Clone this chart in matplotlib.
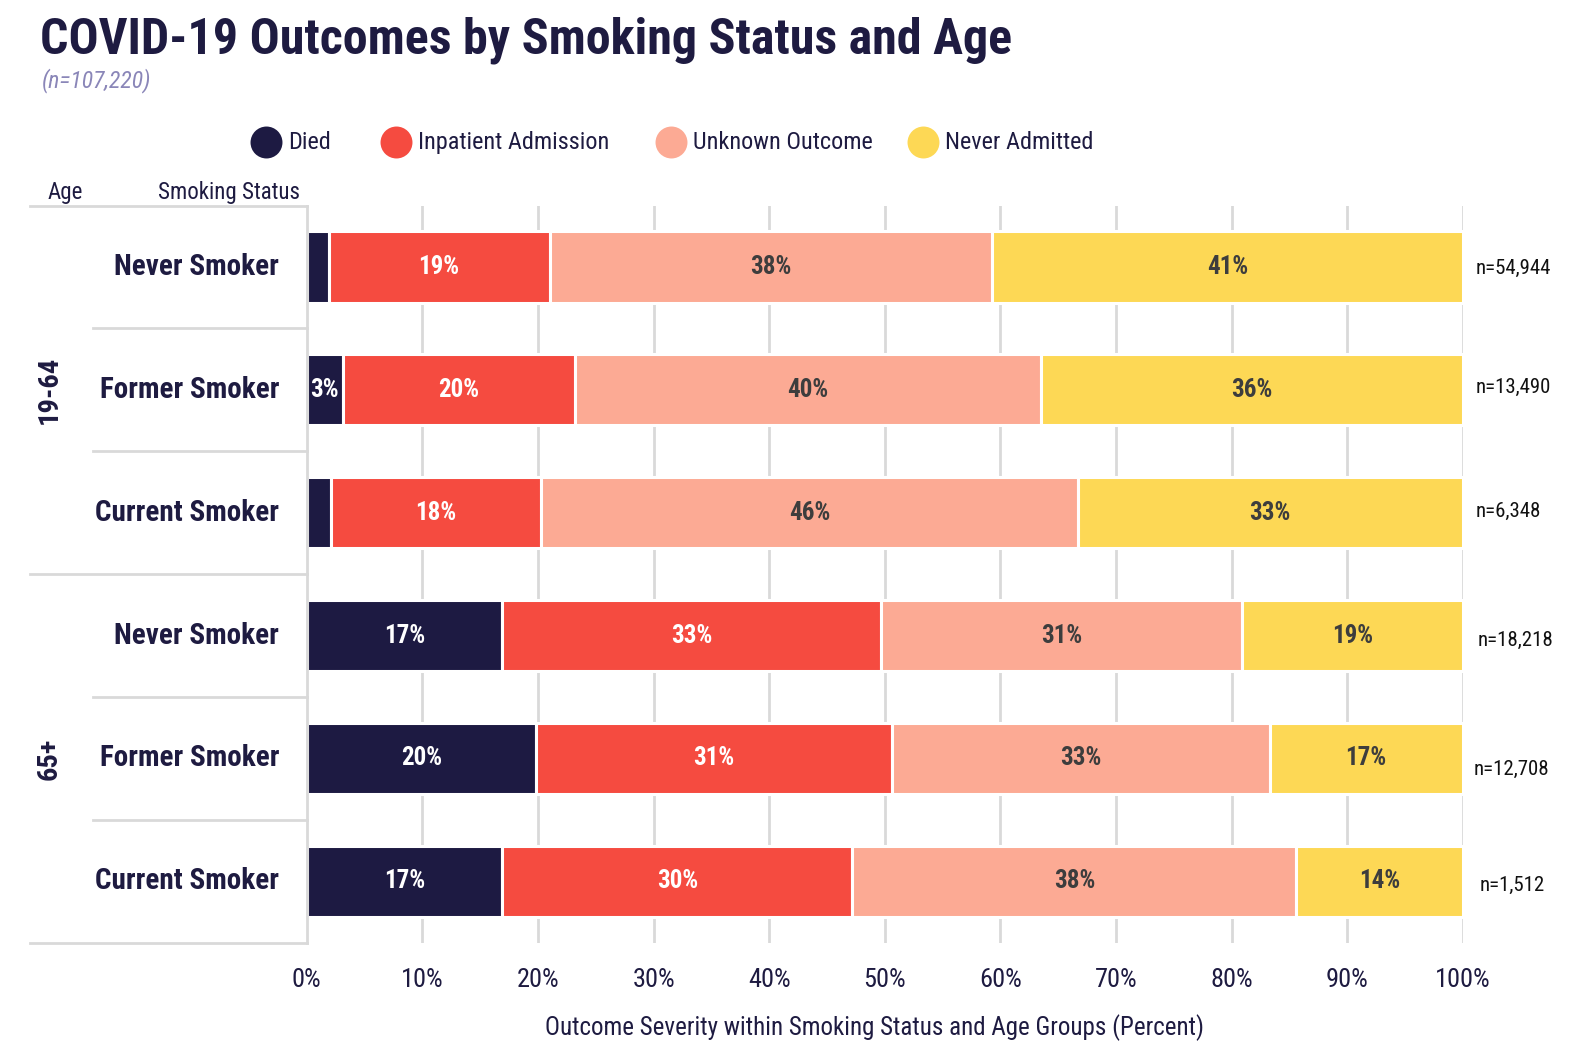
import matplotlib
matplotlib.use("Agg")
import matplotlib.pyplot as plt
from matplotlib import font_manager
import numpy as np

# ---------------- data ----------------
age_groups = ["19-64", "19-64", "19-64", "65+", "65+", "65+"]
smoking_status = ["Never Smoker", "Former Smoker", "Current Smoker",
                  "Never Smoker", "Former Smoker", "Current Smoker"]
outcomes = ["Died", "Inpatient Admission", "Unknown Outcome", "Never Admitted"]
died = [1.9, 3.1, 2.1, 16.9, 19.8, 16.9]
inpatient = [19.1, 20.1, 18.2, 32.8, 30.8, 30.3]
unknown = [38.3, 40.3, 46.4, 31.2, 32.7, 38.4]
never_admitted = [40.7, 36.5, 33.3, 19.1, 16.7, 14.4]
n_counts = ["n=54,944", "n=13,490", "n=6,348", "n=18,218", "n=12,708", "n=1,512"]
total_n = "(n=107,220)"
x_ticks = [0, 10, 20, 30, 40, 50, 60, 70, 80, 90, 100]

# ---------------- style ----------------
names = {f.name for f in font_manager.fontManager.ttflist}
FONT = "Roboto Condensed" if "Roboto Condensed" in names else "Roboto"
COND = FONT == "Roboto Condensed"
plt.rcParams["font.family"] = [FONT, "DejaVu Sans"]

NAVY = "#1e1b41"
colors = ["#1d1a42", "#f54b40", "#fcaa94", "#fdd855"]
label_colors = ["white", "white", "#3d3d3d", "#3d3d3d"]
GRID = "#d9d9d9"

W, H = 1572, 1051
KX, KY = 1572 / 1568, 1051 / 1048
fig = plt.figure(figsize=(W / 100, H / 100), dpi=100)

def fx(px):
    return px * KX / W

def fy(py):
    return 1 - py * KY / H

s = 1.0 if COND else 0.88  # shrink factor for wider fallback font

ax = fig.add_axes([fx(306), fy(940), fx(1459) - fx(306), fy(205) - fy(940)])
ax.set_xlim(0, 100)
ax.set_ylim(5.5, -0.5)
ypos = np.arange(len(smoking_status))

series = [died, inpatient, unknown, never_admitted]
left = np.zeros(len(ypos))
for vals, col, lcol in zip(series, colors, label_colors):
    vals = np.array(vals)
    ax.barh(ypos, vals, left=left, height=0.58, color=col,
            edgecolor="white", linewidth=2.2, zorder=3)
    for yi, (l, v) in enumerate(zip(left, vals)):
        if v >= 2.5:
            ax.text(l + v / 2, yi, f"{int(round(v))}%", ha="center", va="center",
                    color=lcol, fontsize=18 * s, fontweight="bold", zorder=4)
    left = left + vals

# gridlines
for xt in x_ticks[1:]:
    ax.axvline(xt, color=GRID, lw=2, zorder=1, ymin=-0.004, ymax=1)
ax.set_xticks(x_ticks)
ax.set_xticklabels([f"{t}%" for t in x_ticks], color=NAVY, fontsize=19 * s)
ax.tick_params(axis="x", length=0, pad=18)
ax.set_yticks([])
for sp in ["top", "right", "bottom"]:
    ax.spines[sp].set_visible(False)
ax.spines["left"].set_color(GRID)
ax.spines["left"].set_linewidth(2)
ax.spines["left"].set_zorder(5)
fig.text(fx(872), fy(1025),
         "Outcome Severity within Smoking Status and Age Groups (Percent)",
         ha="center", va="center", color=NAVY, fontsize=18 * s)

# n labels (small per-row placement nudges, in pixels)
n_dx = [1509, 1509, 1504, 1512, 1508, 1508]
n_dy = [1, -2, -1, 5, 11, 4]
ptrans = matplotlib.transforms.blended_transform_factory(fig.transFigure, ax.transData)
for yi, nt in enumerate(n_counts):
    off = matplotlib.transforms.offset_copy(ptrans, fig=fig, x=0, y=-n_dy[yi] * 0.72,
                                            units="points")
    ax.text(fx(n_dx[yi]), yi, nt, ha="center", va="center", fontsize=15 * s,
            color="#111111", clip_on=False, transform=off)

# left label area: row labels
for yi, lab in enumerate(smoking_status):
    ax.text(-2.4, yi, lab, ha="right", va="center", fontsize=21 * s,
            fontweight="bold", color=NAVY, clip_on=False)

# horizontal separators (x in figure coords, y in data coords)
trans = matplotlib.transforms.blended_transform_factory(fig.transFigure, ax.transData)
group_bounds = [-0.5, 2.5, 5.5]
inner_bounds = [0.5, 1.5, 3.5, 4.5]
for b in group_bounds:
    ax.plot([fx(30), fx(306)], [b, b], transform=trans, color=GRID, lw=2,
            clip_on=False, zorder=2)
for b in inner_bounds:
    ax.plot([fx(93), fx(306)], [b, b], transform=trans, color=GRID, lw=2,
            clip_on=False, zorder=2)

# group labels
groups = []
for g in age_groups:
    if g not in groups:
        groups.append(g)
for g in groups:
    idx = [i for i, a in enumerate(age_groups) if a == g]
    yc = np.mean(idx)
    ax.text(fx(49), yc, g, transform=trans, rotation=90, ha="center",
            va="center", fontsize=20.5 * s, fontweight="bold", color=NAVY)

# column headers
fig.text(fx(47), fy(192), "Age", ha="left", va="center", fontsize=16.5 * s, color=NAVY)
fig.text(fx(158), fy(192), "Smoking Status", ha="left", va="center",
         fontsize=16.5 * s, color=NAVY)

# title / subtitle
fig.text(fx(40), fy(40), "COVID-19 Outcomes by Smoking Status and Age",
         ha="left", va="center", fontsize=36 * (1.0 if COND else 0.9),
         fontweight="bold", color=NAVY)
fig.text(fx(42), fy(80), total_n, ha="left", va="center", fontsize=17 * s,
         style="italic", color="#8a86b8")

# legend
leg_x = [265, 395, 669, 921]
for px, lab, col in zip(leg_x, outcomes, colors):
    fig.lines.append(matplotlib.lines.Line2D([fx(px)], [fy(142)], marker="o",
                     markersize=23, color=col, markeredgewidth=0,
                     transform=fig.transFigure))
    fig.text(fx(px + 22), fy(142), lab, ha="left", va="center",
             fontsize=17.5 * s, color=NAVY)

fig.savefig("out.png", dpi=100, facecolor="white")
